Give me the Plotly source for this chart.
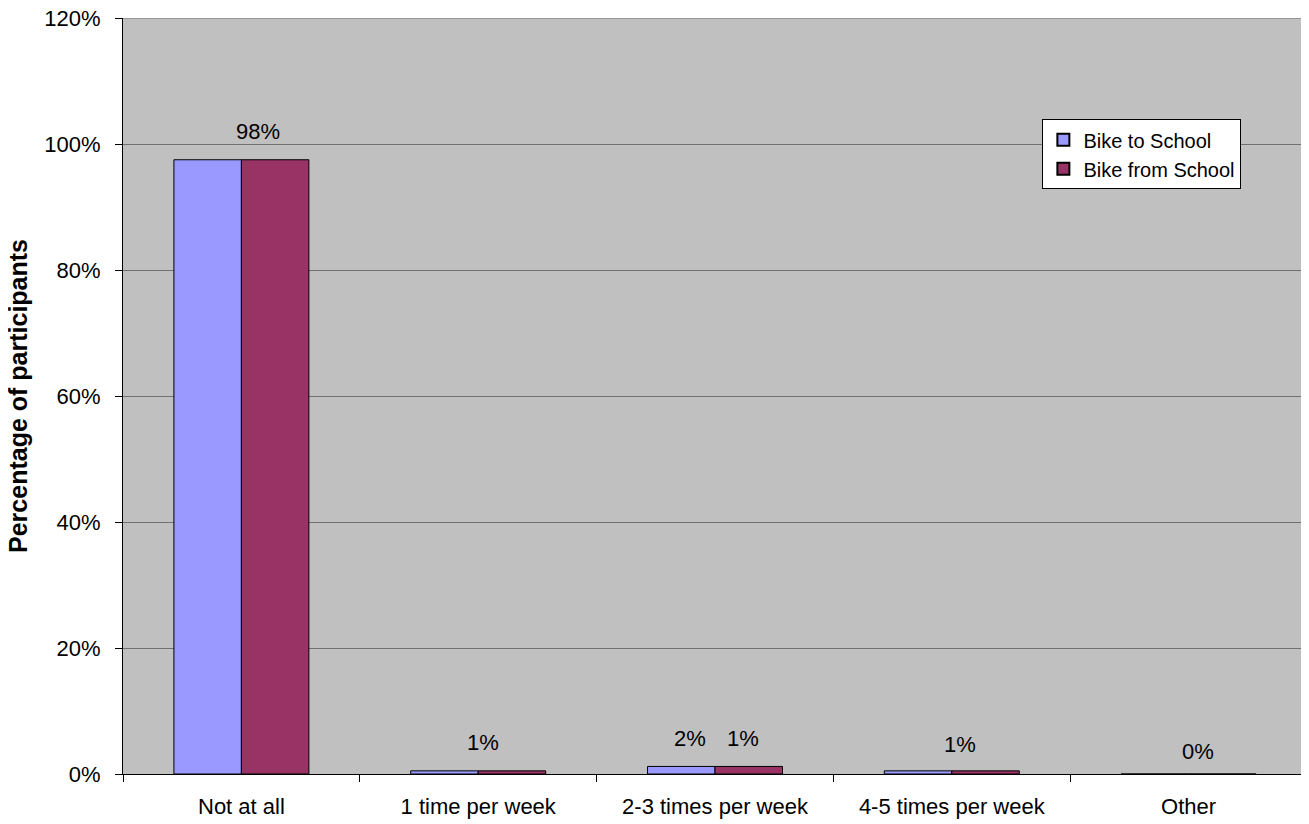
import plotly.graph_objects as go

categories = ["Not at all", "1 time per week", "2-3 times per week", "4-5 times per week", "Other"]
bike_to = [97.5, 0.5, 1.2, 0.5, 0.0]
bike_from = [97.5, 0.5, 1.2, 0.5, 0.0]
label_cats = ["Not at all", "1 time per week", "2-3 times per week", "2-3 times per week", "4-5 times per week", "Other"]
label_texts = ["98%", "1%", "2%", "1%", "1%", "0%"]
label_vals = [97.5, 0.5, 1.2, 1.2, 0.5, 0.0]
label_dx = [17, 5, -25, 28, 8, 9]
label_dy = [-28, -28, -28, -28, -26, -23]
y_ticks = [0, 20, 40, 60, 80, 100, 120]
y_tick_labels = ["0%", "20%", "40%", "60%", "80%", "100%", "120%"]
y_max = 120
y_title = "Percentage of participants"

font = "Arial, Liberation Sans, sans-serif"

fig = go.Figure()
fig.add_trace(go.Bar(name="Bike to School", x=categories, y=bike_to,
                     marker=dict(color="#9999FF", line=dict(color="black", width=1))))
fig.add_trace(go.Bar(name="Bike from School", x=categories, y=bike_from,
                     marker=dict(color="#993366", line=dict(color="black", width=1))))

for c, t, v, dx, dy in zip(label_cats, label_texts, label_vals, label_dx, label_dy):
    fig.add_annotation(x=c, y=v, text=t, showarrow=False, xshift=dx, yshift=-dy,
                       font=dict(family=font, size=22, color="black"))

# y-axis title
fig.add_annotation(xref="paper", yref="paper", x=-0.0887, y=0.5, xanchor="center", yanchor="middle",
                   text="<b>" + y_title + "</b>", textangle=-90, showarrow=False,
                   font=dict(family=font, size=25, color="black"))

# top gridline at the range maximum
fig.add_shape(type="line", xref="paper", yref="y", x0=0, x1=1, y0=y_max, y1=y_max,
              line=dict(color="#707070", width=1), layer="below")

fig.update_layout(
    width=1301, height=816,
    margin=dict(l=115, r=2, t=10, b=50, autoexpand=False),
    paper_bgcolor="white", plot_bgcolor="#C0C0C0",
    barmode="group", bargap=0.43, bargroupgap=0,
    font=dict(family=font, size=22, color="black"),
    showlegend=True,
    legend=dict(x=0.7765, y=0.866, xanchor="left", yanchor="top",
                bgcolor="white", bordercolor="black", borderwidth=1,
                font=dict(family=font, size=20), itemsizing="constant",
                tracegroupgap=0),
    xaxis=dict(showline=True, linecolor="black", linewidth=1, automargin=False,
               ticks="outside", tickson="boundaries", ticklen=7, tickcolor="black",
               ticklabelstandoff=13,
               tickfont=dict(family=font, size=22)),
    yaxis=dict(range=[0, y_max + 0.001], tickvals=y_ticks, ticktext=y_tick_labels,
               showline=True, linecolor="black", linewidth=1, automargin=False,
               ticks="outside", ticklen=7, tickcolor="black", ticklabelstandoff=10,
               ticklabeloverflow="allow",
               showgrid=True, gridcolor="#707070", gridwidth=1, zeroline=False,
               tickfont=dict(family=font, size=22)),
)

fig.write_html("out.html")
